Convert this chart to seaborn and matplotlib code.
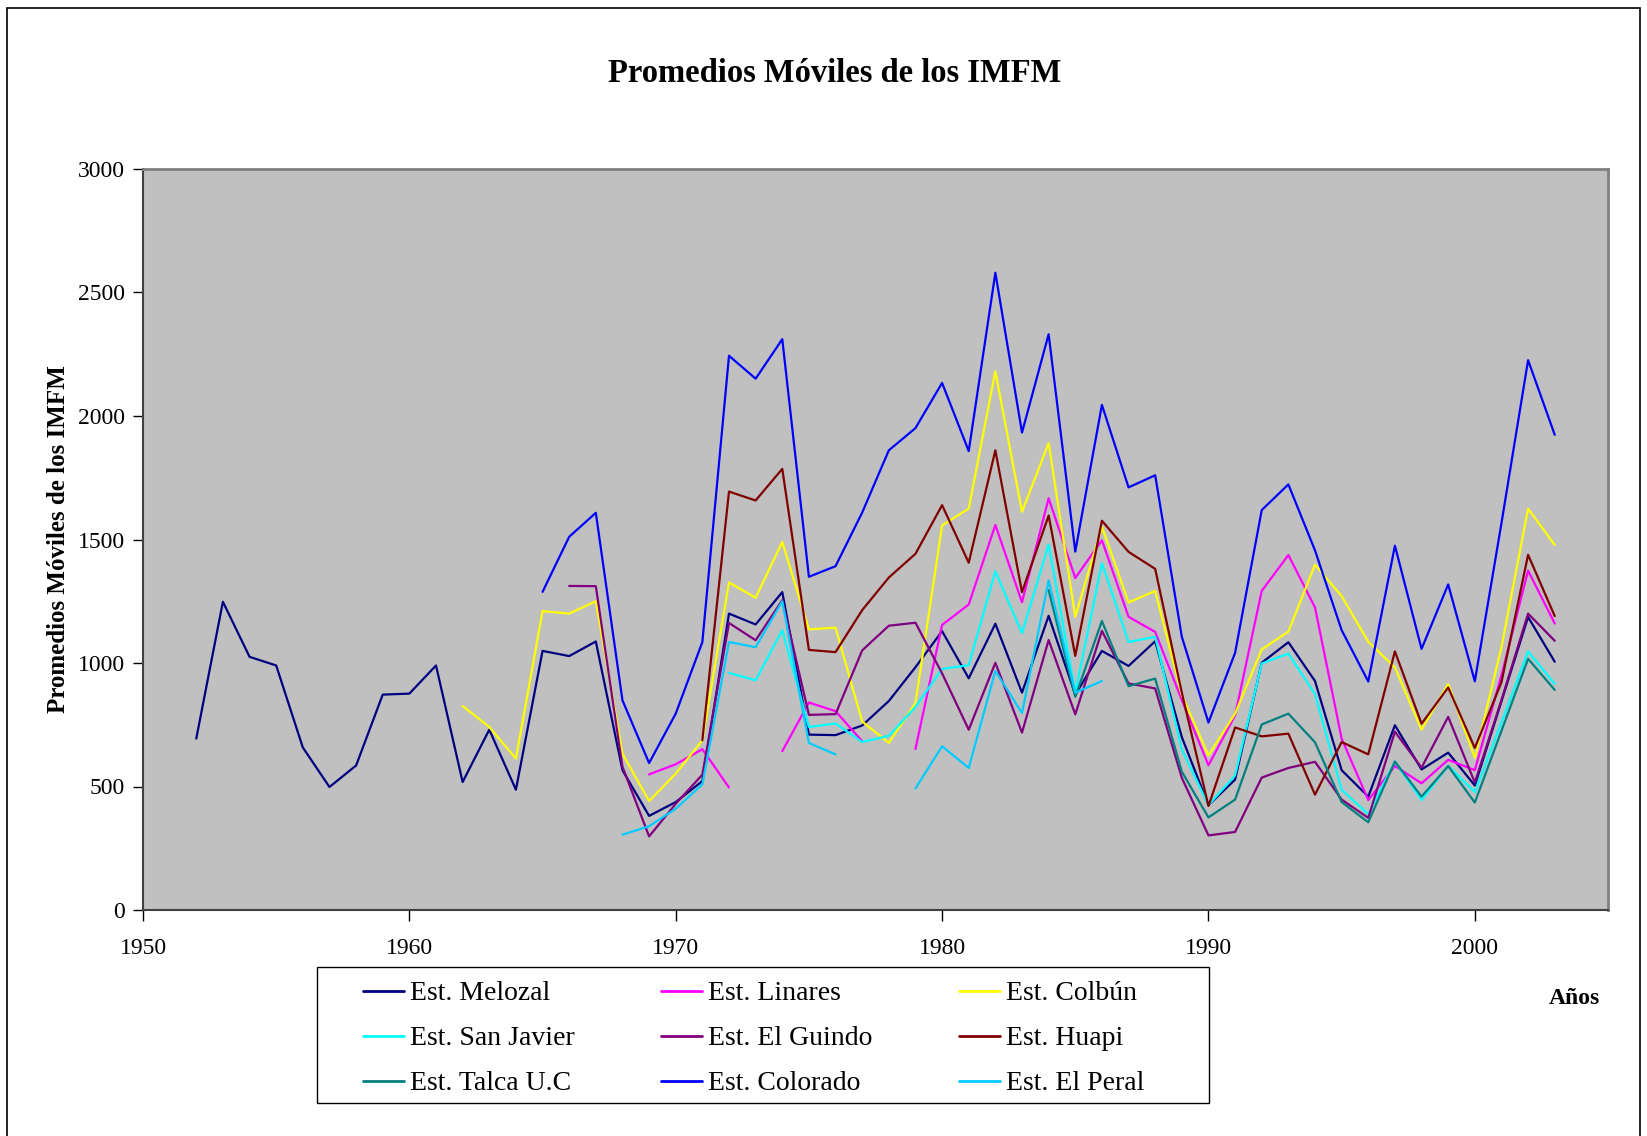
import numpy as np
import pandas as pd
import seaborn as sns
import matplotlib.pyplot as plt
from matplotlib.lines import Line2D
from matplotlib.patches import Rectangle

nan = np.nan

# Moving averages of the IMFM per station (one value per year, nan = no record)
melozal_start = 1952
melozal = [694, 1248, 1025, 990, 658, 498, 585, 872, 876, 990, 518, 730, 487, 1049, 1028,
           1087, 566, 381, 437, 522, 1200, 1156, 1287, 710, 708, 747, 846, 983, 1129, 938,
           1159, 880, 1191, 872, 1049, 988, 1088, 700, 424, 528, 1001, 1084, 927, 566, 459,
           748, 569, 637, 504, 845, 1186, 1005]

linares_start = 1969
linares = [549, 590, 651, 496, nan, 643, 840, 805, 683, nan, 652, 1154, 1237, 1559, 1246,
           1667, 1344, 1497, 1187, 1126, 850, 586, 788, 1292, 1437, 1225, 694, 445, 583, 513,
           608, 566, 950, 1374, 1160]

colbun_start = 1962
colbun = [826, 741, 613, 1210, 1200, 1250, 633, 441, 552, 687, 1326, 1264, 1490, 1136, 1143,
          763, 677, 838, 1557, 1625, 2181, 1612, 1890, 1187, 1552, 1245, 1292, 870, 626, 795,
          1055, 1127, 1398, 1271, 1086, 982, 730, 915, 616, 1064, 1625, 1478]

san_javier_start = 1972
san_javier = [960, 930, 1133, 741, 755, 680, 705, 822, 976, 991, 1371, 1121, 1480, 880, 1404,
              1085, 1106, 650, 424, 545, 998, 1038, 874, 487, 388, 601, 445, 584, 477, 760,
              1047, 915]

el_guindo_start = 1966
el_guindo = [1312, 1311, 580, 298, 430, 548, 1162, 1092, 1254, 790, 793, 1051, 1151, 1163,
             958, 730, 1001, 718, 1093, 792, 1130, 917, 897, 535, 302, 316, 536, 575, 600,
             447, 373, 722, 576, 782, 516, 850, 1200, 1090]

huapi_start = 1971
huapi = [687, 1694, 1658, 1786, 1053, 1044, 1214, 1346, 1442, 1639, 1406, 1861, 1287, 1597,
         1029, 1576, 1450, 1381, 880, 421, 739, 703, 714, 467, 680, 630, 1047, 754, 901, 656,
         922, 1438, 1190]

talca_start = 1984
talca = [1295, 863, 1170, 906, 937, 560, 375, 447, 751, 795, 679, 437, 355, 601, 459, 583,
         435, 725, 1017, 891]

colorado_start = 1965
colorado = [1288, 1511, 1608, 849, 595, 795, 1085, 2244, 2151, 2311, 1349, 1392, 1609, 1861,
            1951, 2134, 1858, 2580, 1933, 2331, 1451, 2045, 1711, 1760, 1106, 759, 1041, 1619,
            1723, 1456, 1133, 925, 1475, 1057, 1318, 926, 1566, 2226, 1924]

el_peral_start = 1968
el_peral = [305, 339, 410, 509, 1085, 1064, 1250, 676, 630, nan, nan, 492, 663, 575, 968, 797,
            1334, 880, 927]

stations = ["Est. Melozal", "Est. Linares", "Est. Colbún", "Est. San Javier", "Est. El Guindo",
            "Est. Huapi", "Est. Talca U.C", "Est. Colorado", "Est. El Peral"]
series = [(melozal_start, melozal), (linares_start, linares), (colbun_start, colbun),
          (san_javier_start, san_javier), (el_guindo_start, el_guindo), (huapi_start, huapi),
          (talca_start, talca), (colorado_start, colorado), (el_peral_start, el_peral)]
colors = ["#000080", "#FF00FF", "#FFFF00", "#00FFFF", "#800080", "#800000", "#008080",
          "#0000FF", "#00CCFF"]

# Long-form table; each unbroken run of years gets its own unit so gaps stay open
rows = []
for name, (start, vals) in zip(stations, series):
    seg = 0
    prev_missing = False
    for i, v in enumerate(vals):
        if np.isnan(v):
            prev_missing = True
            continue
        if prev_missing:
            seg += 1
            prev_missing = False
        rows.append({"Año": start + i, "IMFM": v, "Estación": name, "tramo": f"{name}-{seg}"})
df = pd.DataFrame(rows)

sns.set_theme(style="white")
plt.rcParams["font.family"] = ["Liberation Serif", "DejaVu Serif"]
plt.rcParams.update({"text.color": "black", "axes.labelcolor": "black",
                     "xtick.color": "black", "ytick.color": "black"})

W, H = 1647, 1136
fig = plt.figure(figsize=(W / 100, H / 100), dpi=100)
ax = fig.add_axes([143 / W, 1 - 910 / H, 1465 / W, 741 / H])
ax.set_facecolor("#C0C0C0")

palette = dict(zip(stations, colors))
sns.lineplot(data=df, x="Año", y="IMFM", hue="Estación", units="tramo", estimator=None,
             palette=palette, linewidth=1.6, legend=False, ax=ax, sort=True)

ax.set_xlim(1950, 2005)
ax.set_ylim(0, 3000)
ax.set_xticks(range(1950, 2001, 10))
ax.set_yticks(range(0, 3001, 500))
ax.tick_params(axis="x", direction="out", length=8, width=1, color="#000000",
               labelcolor="black", labelsize=17, pad=12, bottom=True)
ax.tick_params(axis="y", direction="out", length=7, width=1, color="#000000",
               labelcolor="black", labelsize=17, pad=6, left=True)
ax.set_xlabel("")
ax.set_ylabel("Promedios Móviles de los IMFM", fontsize=18, fontweight="bold",
              color="black")
ax.yaxis.set_label_coords(-0.058, 0.5)
ax.yaxis.label.set_verticalalignment("center")
ax.grid(False)
for side in ["top", "right"]:
    ax.spines[side].set_color("#808080")
    ax.spines[side].set_linewidth(2)
for side in ["left", "bottom"]:
    ax.spines[side].set_color("#404040")
    ax.spines[side].set_linewidth(1.5)

fig.text(835 / W, 1 - 74 / H, "Promedios Móviles de los IMFM", ha="center",
         va="center", fontsize=23.5, fontweight="bold", color="black")
fig.text(1600 / W, 1 - 998 / H, "Años", ha="right", va="center", fontsize=17,
         fontweight="bold", color="black")

# Legend box, with entries laid out row by row: three stations per row
fig.patches.append(Rectangle((317 / W, 1 - 1103 / H), 892 / W, 136 / H,
                             transform=fig.transFigure, facecolor="white",
                             edgecolor="black", linewidth=1.0, zorder=1))
order = [0, 3, 6, 1, 4, 7, 2, 5, 8]
handles = [Line2D([0], [0], color=colors[i], lw=2) for i in order]
labels = [stations[i] for i in order]
leg = fig.legend(handles, labels, ncol=3, loc="upper left",
                 bbox_to_anchor=(363 / W, 1 - 981 / H), bbox_transform=fig.transFigure,
                 fontsize=20, frameon=False, borderaxespad=0, borderpad=0,
                 handlelength=1.47, handletextpad=0.23, labelspacing=0.7,
                 columnspacing=3.1, labelcolor="black")
leg.set_zorder(2)

# Outer chart frame
fig.patches.append(Rectangle((7 / W, -0.02), 1633 / W, 1 - 8 / H + 0.02,
                             transform=fig.transFigure, fill=False, edgecolor="black",
                             linewidth=1.2))

fig.savefig("out.png", dpi=100)
